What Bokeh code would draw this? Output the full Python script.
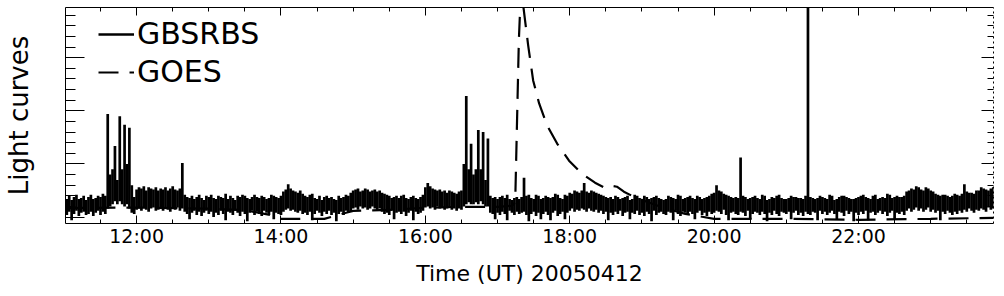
import numpy as np
from bokeh.plotting import figure
from bokeh.models import Range1d, LinearAxis, FixedTicker, Legend, LegendItem
from bokeh.embed import file_html
from bokeh.resources import INLINE

# ---------------- data ----------------
# GBSRBS light curve: max and min read in 2-minute bins from 11:00 UT (arbitrary units)
gbs_start_hour = 11.0
gbs_step_min = 2
gbs_max = [
    18, 17, 20, 16, 19, 21, 17, 18, 20, 16,
    19, 21, 17, 18, 20, 19, 22, 20, 97, 40,
    45, 67, 35, 95, 45, 87, 50, 84, 30, 19,
    26, 28, 27, 29, 25, 28, 27, 26, 28, 25,
    27, 26, 28, 25, 27, 29, 26, 25, 27, 51,
    21, 19, 18, 20, 17, 19, 21, 18, 16, 20,
    19, 21, 18, 17, 20, 19, 18, 22, 17, 20,
    18, 16, 20, 19, 21, 20, 18, 17, 19, 21,
    19, 18, 20, 19, 17, 18, 21, 20, 19, 18,
    20, 24, 26, 31, 27, 25, 24, 23, 25, 22,
    20, 19, 21, 22, 18, 17, 20, 16, 19, 20,
    18, 19, 17, 16, 20, 18, 19, 21, 20, 23,
    25, 26, 27, 24, 25, 27, 26, 24, 25, 26,
    24, 25, 23, 22, 21, 20, 18, 19, 20, 18,
    20, 21, 18, 17, 19, 20, 18, 17, 19, 21,
    28, 32, 29, 27, 26, 25, 26, 24, 25, 23,
    25, 24, 23, 22, 24, 25, 50, 114, 45, 69,
    40, 45, 82, 45, 80, 35, 74, 20, 18, 19,
    17, 19, 20, 18, 21, 17, 16, 18, 19, 17,
    19, 37, 20, 21, 18, 17, 21, 20, 17, 18,
    20, 19, 18, 19, 22, 21, 18, 17, 21, 20,
    23, 22, 25, 24, 23, 25, 32, 24, 23, 25,
    24, 23, 22, 21, 20, 19, 18, 19, 17, 20,
    19, 17, 18, 19, 20, 16, 17, 21, 20, 18,
    17, 20, 19, 17, 18, 19, 20, 18, 17, 16,
    17, 20, 19, 18, 17, 21, 20, 17, 18, 19,
    20, 18, 17, 20, 19, 17, 18, 19, 20, 22,
    23, 30, 25, 24, 22, 21, 20, 19, 18, 19,
    18, 56, 20, 19, 17, 18, 19, 20, 18, 17,
    21, 20, 16, 17, 19, 18, 20, 21, 18, 17,
    17, 18, 20, 19, 19, 18, 18, 17, 20, 300,
    19, 18, 17, 18, 20, 19, 18, 17, 21, 20,
    16, 17, 19, 20, 20, 19, 18, 17, 17, 18,
    19, 20, 21, 19, 18, 17, 20, 21, 17, 18,
    19, 18, 22, 21, 18, 19, 20, 19, 19, 20,
    24, 25, 27, 26, 29, 28, 26, 25, 28, 27,
    25, 24, 22, 21, 20, 21, 21, 20, 19, 20,
    22, 21, 20, 22, 31, 24, 23, 23, 22, 25,
    25, 28, 27, 26, 25, 27, 28,
]
gbs_min = [
    4, 2, 5, -3, 3, 6, 1, 4, 5, 2,
    3, 5, 1, 4, 6, 2, 5, 3, 8, 10,
    12, 15, 12, 15, 12, 10, 12, 8, 4, 3,
    7, 8, 6, 9, 7, 5, 8, 9, 6, 7,
    8, 6, 9, 7, 5, 8, 7, 9, 6, 8,
    5, 3, -2, 4, 6, 2, 5, 1, 4, 6,
    3, 5, 0, 4, 2, 6, 3, -3, 5, 4,
    2, 6, 4, 1, 5, 3, -4, 4, 6, 2,
    5, 3, 1, 6, 4, 2, 5, -2, 4, 3,
    2, 5, 7, 8, 6, 7, 5, 4, 6, 3,
    4, 2, 5, -3, 3, 6, 4, 1, 5, 3,
    6, 2, 4, -4, 3, 5, 2, 6, 4, 5,
    8, 9, 7, 10, 8, 9, 7, 8, 10, 8,
    7, 8, 5, 3, 4, 2, 6, -2, 4, 5,
    3, 5, 1, 4, 6, -3, 5, 3, 4, 6,
    9, 10, 8, 9, 7, 10, 8, 9, 7, 8,
    9, 7, 8, 6, 8, 7, 10, 12, 14, 12,
    12, 14, 12, 15, 12, 10, 10, 4, 3, -2,
    4, 2, 5, 3, -3, 6, 4, 2, 5, 3,
    4, 5, 2, -4, 3, 5, 1, 4, -2, 3,
    5, 2, -3, 4, 6, 1, 3, 5, -2, 4,
    6, 8, 5, 7, 6, 8, 7, 5, 8, 6,
    5, 7, 4, 6, 3, 5, -3, 4, 2, 5,
    3, 6, 1, 4, 5, -2, 4, 3, 6, 2,
    4, 1, 5, 3, -4, 6, 2, 4, 5, 3,
    2, 5, 4, -3, 6, 3, 1, 5, 4, 2,
    5, 3, -2, 4, 6, 2, 4, 1, 5, 3,
    4, 6, 5, 3, 7, 2, -3, 4, 5, 3,
    2, 5, 4, 1, 6, -2, 3, 5, 4, 2,
    5, 3, -4, 4, 2, 6, 3, 1, 5, 4,
    3, 5, -2, 4, 6, 2, 4, 1, 5, 3,
    2, 5, 4, -3, 6, 3, 5, 2, 4, 6,
    3, -2, 5, 4, 1, 6, 3, 5, -4, 4,
    2, 5, 3, 6, -3, 4, 5, 2, 4, 6,
    3, 5, 1, 4, 6, -2, 4, 3, 5, 2,
    6, 8, 5, 7, 9, 6, 8, 5, 7, 9,
    5, 7, 4, 6, -3, 5, 3, 6, 4, 2,
    5, 3, 6, 4, 7, 5, 8, 6, 4, 7,
    6, 8, 7, 5, 9, 7, 8,
]
gbs_time = gbs_start_hour + np.arange(len(gbs_max)) * gbs_step_min / 60.0

# GOES light curve (hours UT, same arbitrary units)
goes_time = [11.0, 12.0, 13.0, 13.5, 13.85, 14.0, 14.6, 14.9, 15.0, 15.5, 16.0, 16.5,
             17.0, 17.2, 17.23, 17.245, 17.27, 17.295, 17.315, 17.335, 17.355,
             17.424, 17.493, 17.576, 17.687, 17.825, 17.99, 18.17, 18.35, 18.487,
             18.57, 18.653, 18.75, 18.887, 19.067, 19.3, 19.6, 20.0, 21.0, 22.0,
             23.0, 23.87]
goes_values = [8.5, 9.0, 8.0, 6.5, 2.0, -1.6, -1.6, 4.1, 5.9, 6.9, 8.8, 9.7,
               9.7, 10.7, 12.5, 15.4, 90.8, 166.3, 199.3, 241.8, 199.3,
               161.6, 128.6, 106.9, 86.1, 69.2, 53.1, 40.8, 32.4, 27.6,
               29.5, 28.6, 23.9, 19.2, 14.4, 8.8, 3.1, -1.6, -1.6, -2.5,
               -1.6, -0.7]

x_tick_hours = [12, 14, 16, 18, 20, 22]
x_tick_labels = ["12:00", "14:00", "16:00", "18:00", "20:00", "22:00"]
x_minor_hours = [h / 2 for h in range(22, 48)]
y_major = [0, 50, 100, 150]
y_minor = list(range(-10, 200, 10))

FONT = "DejaVu Sans"

p = figure(width=1004, height=296,
           x_range=Range1d(11.015, 23.87), y_range=Range1d(-6.0, 197.2),
           x_axis_type=None, y_axis_type=None,
           output_backend="svg", toolbar_location=None,
           min_border_left=62, min_border_right=11,
           min_border_top=7, min_border_bottom=73)
p.outline_line_color = None
p.background_fill_color = "white"
p.border_fill_color = "white"

r_goes = p.line(goes_time, goes_values, line_color="black", line_width=2.2,
                line_dash="20 11")
r_gbs = p.segment(x0=gbs_time, y0=gbs_min, x1=gbs_time, y1=gbs_max,
                  line_color="black", line_width=2.7, line_cap="butt")

xt = FixedTicker(ticks=x_tick_hours, minor_ticks=x_minor_hours)
yt = FixedTicker(ticks=y_major, minor_ticks=y_minor)
blank_x = {h: "" for h in x_tick_hours}
blank_y = {v: "" for v in y_major}

bottom = LinearAxis(ticker=xt, axis_label="Time (UT) 20050412",
                    major_tick_in=8, major_tick_out=0, minor_tick_in=4, minor_tick_out=0,
                    major_label_standoff=1, axis_label_standoff=11,
                    major_label_text_font=FONT, major_label_text_font_size="19px",
                    axis_label_text_font=FONT, axis_label_text_font_size="22px",
                    axis_label_text_font_style="normal",
                    major_label_text_color="black", axis_label_text_color="black",
                    axis_line_color="black", major_tick_line_color="black",
                    minor_tick_line_color="black")
bottom.major_label_overrides = {h: s for h, s in zip(x_tick_hours, x_tick_labels)}
p.add_layout(bottom, "below")

top = LinearAxis(ticker=xt, major_tick_in=8, major_tick_out=0, minor_tick_in=4,
                 minor_tick_out=0, major_label_text_font_size="1px",
                 major_label_standoff=0, major_label_overrides=blank_x,
                 axis_line_color="black", major_tick_line_color="black",
                 minor_tick_line_color="black")
p.add_layout(top, "above")

left = LinearAxis(ticker=yt, axis_label="Light curves",
                  major_tick_in=19, major_tick_out=0, minor_tick_in=10, minor_tick_out=0,
                  major_label_text_font_size="1px", major_label_standoff=0,
                  major_label_overrides=blank_y,
                  axis_label_standoff=32,
                  axis_label_text_font=FONT, axis_label_text_font_size="26px",
                  axis_label_text_font_style="normal", axis_label_text_color="black",
                  axis_line_color="black", major_tick_line_color="black",
                  minor_tick_line_color="black")
p.add_layout(left, "left")

right = LinearAxis(ticker=yt, major_tick_in=12, major_tick_out=0, minor_tick_in=6,
                   minor_tick_out=0, major_label_text_font_size="1px",
                   major_label_standoff=0, major_label_overrides=blank_y,
                   axis_line_color="black", axis_line_dash="2 3",
                   major_tick_line_color="black", minor_tick_line_color="black")
p.add_layout(right, "right")

legend = Legend(items=[LegendItem(label="GBSRBS", renderers=[r_gbs]),
                       LegendItem(label="GOES", renderers=[r_goes])],
                location=(33, 134), margin=0, padding=11,
                glyph_width=36, glyph_height=34, label_height=34, spacing=3,
                label_standoff=3, label_text_font=FONT, label_text_font_size="30px",
                label_text_color="black",
                border_line_color=None, background_fill_alpha=0)
p.add_layout(legend)

open("out.html", "w").write(file_html(p, INLINE))
